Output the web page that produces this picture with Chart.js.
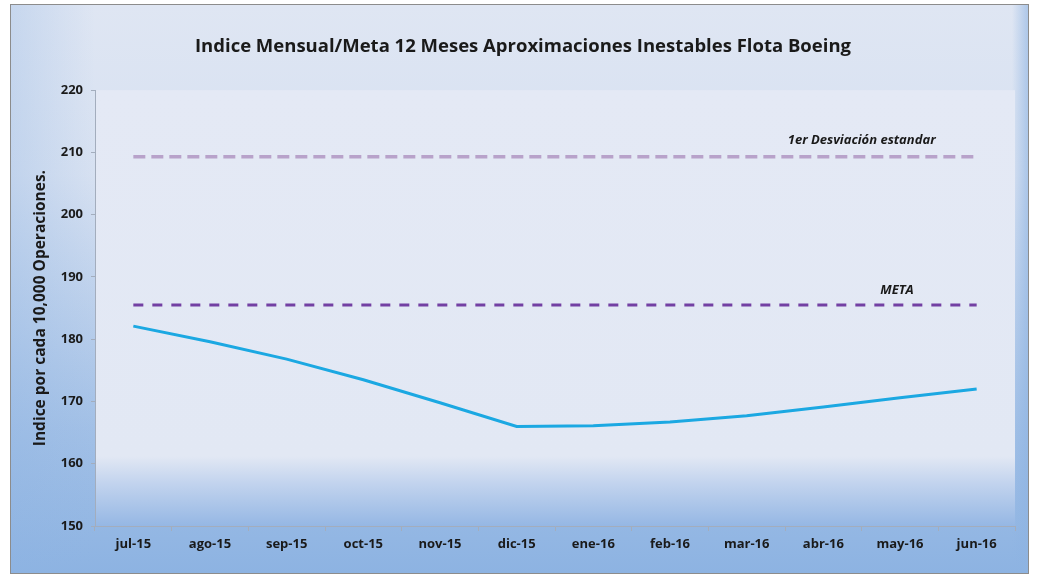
<!DOCTYPE html>
<html>
<head>
<meta charset="utf-8">
<script src="https://cdn.jsdelivr.net/npm/chart.js@4.4.0/dist/chart.umd.min.js"></script>
<style>
    body { margin: 0; background: #fff; }
    canvas { display: block; }
</style>
</head>
<body>
<canvas id="chartIndice" width="1039" height="577"></canvas>
<script>
var meses = ['jul-15', 'ago-15', 'sep-15', 'oct-15', 'nov-15', 'dic-15', 'ene-16', 'feb-16', 'mar-16', 'abr-16', 'may-16', 'jun-16'];
var indice = [182.1, 179.6, 176.8, 173.5, 169.8, 166.0, 166.1, 166.7, 167.7, 169.1, 170.6, 172.0];
var meta = [185.5, 185.5, 185.5, 185.5, 185.5, 185.5, 185.5, 185.5, 185.5, 185.5, 185.5, 185.5];
var desviacion = [209.3, 209.3, 209.3, 209.3, 209.3, 209.3, 209.3, 209.3, 209.3, 209.3, 209.3, 209.3];
var yTicks = [150, 160, 170, 180, 190, 200, 210, 220];

// fondo con degradado tipo Excel
var fondo = {
    id: 'fondo',
    beforeDraw: function (chart) {
        var ctx = chart.ctx, a = chart.chartArea;
        var x0 = 10, y0 = 4, x1 = 1028, y1 = 573;
        ctx.save();
        ctx.fillStyle = '#dfe6f3';
        ctx.fillRect(x0, y0, x1 - x0, y1 - y0);
        var g = ctx.createLinearGradient(0, y0, 0, y1);
        g.addColorStop(0, 'rgba(141,179,226,0)');
        g.addColorStop(0.3, 'rgba(141,179,226,0.1)');
        g.addColorStop(0.75, 'rgba(141,179,226,0.75)');
        g.addColorStop(1, 'rgba(141,179,226,1)');
        ctx.fillStyle = g;
        ctx.fillRect(x0, y0, x1 - x0, y1 - y0);
        var gl = ctx.createLinearGradient(x0, 0, 95, 0);
        gl.addColorStop(0, 'rgba(141,179,226,0.3)');
        gl.addColorStop(1, 'rgba(141,179,226,0)');
        ctx.fillStyle = gl;
        ctx.fillRect(x0, y0, 85, y1 - y0);
        var gr = ctx.createLinearGradient(1012, 0, x1, 0);
        gr.addColorStop(0, 'rgba(141,179,226,0)');
        gr.addColorStop(1, 'rgba(141,179,226,0.6)');
        ctx.fillStyle = gr;
        ctx.fillRect(1012, y0, x1 - 1012, y1 - y0);
        // area del grafico
        var gp = ctx.createLinearGradient(0, a.top, 0, a.bottom);
        gp.addColorStop(0, '#e4e9f5');
        gp.addColorStop(0.84, '#e2e8f4');
        gp.addColorStop(0.9, '#c3d4ee');
        gp.addColorStop(1, '#95b7e4');
        ctx.fillStyle = gp;
        ctx.fillRect(a.left, a.top, a.right - a.left, a.bottom - a.top);
        ctx.strokeStyle = '#8c8c8c';
        ctx.lineWidth = 1;
        ctx.strokeRect(x0 + 0.5, y0 + 0.5, x1 - x0, y1 - y0);
        ctx.restore();
    }
};

// etiquetas de las lineas de referencia
var etiquetas = {
    id: 'etiquetas',
    afterDatasetsDraw: function (chart) {
        var ctx = chart.ctx, x = chart.scales.x, y = chart.scales.y;
        ctx.save();
        ctx.font = 'italic bold 13px "Open Sans"';
        ctx.fillStyle = '#1a1a1a';
        ctx.textAlign = 'center';
        ctx.textBaseline = 'bottom';
        var xd = (x.getPixelForValue(9) + x.getPixelForValue(10)) / 2;
        ctx.fillText('1er Desviación estandar', xd, y.getPixelForValue(desviacion[10]) - 10);
        ctx.fillText('META', x.getPixelForValue(10) - 3, y.getPixelForValue(meta[10]) - 8);
        ctx.restore();
    }
};

var ctx = document.getElementById('chartIndice');
var chart = new Chart(ctx, {
    type: 'line',
    data: {
        labels: meses,
        datasets: [{
            label: 'Indice',
            data: indice,
            borderColor: '#1ba8e2',
            borderWidth: 3,
            pointRadius: 0,
            tension: 0
        }, {
            label: 'META',
            data: meta,
            borderColor: '#7340a3',
            borderWidth: 3,
            borderDash: [10, 9],
            pointRadius: 0
        }, {
            label: '1er Desviación estandar',
            data: desviacion,
            borderColor: '#b8a2ca',
            borderWidth: 3.5,
            borderDash: [12, 6],
            pointRadius: 0
        }]
    },
    options: {
        responsive: false,
        animation: false,
        layout: { padding: { top: 0, right: 24, bottom: 11, left: 31 } },
        plugins: {
            legend: { display: false },
            tooltip: { enabled: false },
            title: {
                display: true,
                text: 'Indice Mensual/Meta 12 Meses Aproximaciones Inestables Flota Boeing',
                color: '#1a1a1a',
                font: { family: '"Open Sans"', size: 18.5, weight: 'bold' },
                padding: { top: 36, bottom: 32 }
            }
        },
        scales: {
            x: {
                offset: true,
                grid: { display: true, drawOnChartArea: false, offset: true, color: '#a3adbd', tickLength: 5 },
                border: { color: '#a3adbd' },
                ticks: { color: '#1a1a1a', font: { family: '"Open Sans"', size: 13, weight: 'bold' }, padding: 5, maxRotation: 0 },
                afterFit: function (s) { s.height = 40; }
            },
            y: {
                min: 150,
                max: 220,
                afterBuildTicks: function (s) { s.ticks = yTicks.map(function (v) { return { value: v }; }); },
                grid: { display: true, drawOnChartArea: false, color: '#a3adbd', tickLength: 4 },
                border: { color: '#a3adbd' },
                ticks: { color: '#1a1a1a', font: { family: '"Open Sans"', size: 13, weight: 'bold' }, padding: 8 },
                title: {
                    display: true,
                    text: 'Indice por cada 10,000 Operaciones.',
                    color: '#1a1a1a',
                    font: { family: '"Open Sans"', size: 15.5, weight: 'bold' },
                    padding: { top: 0, bottom: 3 }
                },
                afterFit: function (s) { s.width = 64; }
            }
        }
    },
    plugins: [fondo, etiquetas]
});
</script>
</body>
</html>
